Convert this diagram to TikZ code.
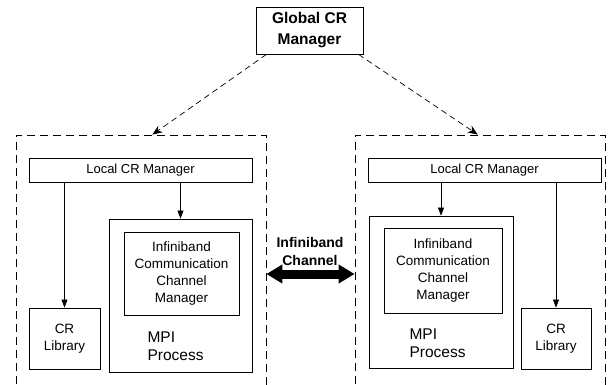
\documentclass[tikz,border=0pt]{standalone}
\usepackage{fontspec}
\setmainfont{Liberation Sans}
\usetikzlibrary{arrows.meta}

\begin{document}
\begin{tikzpicture}[x=1pt,y=-1pt,
  box/.style={draw,line width=0.8pt,inner sep=0pt,align=center},
  hostbox/.style={draw,dashed,dash pattern=on 8pt off 5pt,line width=0.8pt,
    minimum width=250pt,minimum height=260pt},
  ctrl/.style={-{Stealth[length=10pt,width=8pt]},dash pattern=on 6pt off 4pt,line width=0.7pt},
  call/.style={-{Triangle[length=8pt,width=6pt]},line width=0.7pt},
  bigtxt/.style={font=\fontsize{15.5}{18}\selectfont},
  smalltxt/.style={font=\fontsize{13.5}{17}\selectfont}]
\useasboundingbox (0,0) rectangle (613,385);
\clip (0,0) rectangle (613,385);

\node[box,minimum width=107pt,minimum height=47pt,
  font=\bfseries\fontsize{15.5}{21}\selectfont] (global) at (309.5,30.5) {Global CR\\Manager};

% left node
\node[hostbox] (host1) at (141,265) {};
\node[box,minimum width=223pt,minimum height=24pt,font=\fontsize{13}{15}\selectfont]
  (local1) at (140.5,170) {Local CR Manager};
\node[box,smalltxt,minimum width=71pt,minimum height=61pt] (lib1) at (64.5,338.5) {CR\\Library};
\node[box,minimum width=143pt,minimum height=153pt] (mpi1) at (180.5,295.5) {};
\node[box,smalltxt,minimum width=115pt,minimum height=83pt]
  (ib1) at (181.5,273.5) {Infiniband\\Communication\\Channel\\Manager};
\node[bigtxt,anchor=west,align=left] (mpi1txt) at (144,346) {MPI\\Process};

% right node
\node[hostbox] (host2) at (480,265) {};
\node[box,minimum width=233pt,minimum height=24pt,font=\fontsize{13}{15}\selectfont]
  (local2) at (484.5,170) {Local CR Manager};
\node[box,smalltxt,minimum width=70pt,minimum height=61pt] (lib2) at (556,338.5) {CR\\Library};
\node[box,minimum width=144pt,minimum height=152pt] (mpi2) at (441,292) {};
\node[box,smalltxt,minimum width=118pt,minimum height=85pt]
  (ib2) at (443,270.5) {Infiniband\\Communication\\Channel\\Manager};
\node[bigtxt,anchor=west,align=left] (mpi2txt) at (406,343) {MPI\\Process};

\draw[ctrl] (global.-151) -- (host1.85);
\draw[ctrl] (global.-26) -- (host2.91);

\draw[call] (local1.south -| lib1.north) -- (lib1.north);
\draw[call] (local1.south -| mpi1.north) -- (mpi1.north);
\draw[call] (local2.south -| mpi2.north) -- (mpi2.north);
\draw[call] (local2.south -| lib2.north) -- (lib2.north);

% link between the two nodes
\node[align=center,font=\bfseries\fontsize{14}{18}\selectfont] (chan) at (310,251) {Infiniband\\Channel};
\draw[line width=9pt,{Triangle[length=16pt,width=18pt]}-{Triangle[length=16pt,width=18pt]}]
  ([yshift=-9pt]host1.east) -- ([yshift=-9pt]host2.west);
\end{tikzpicture}
\end{document}
